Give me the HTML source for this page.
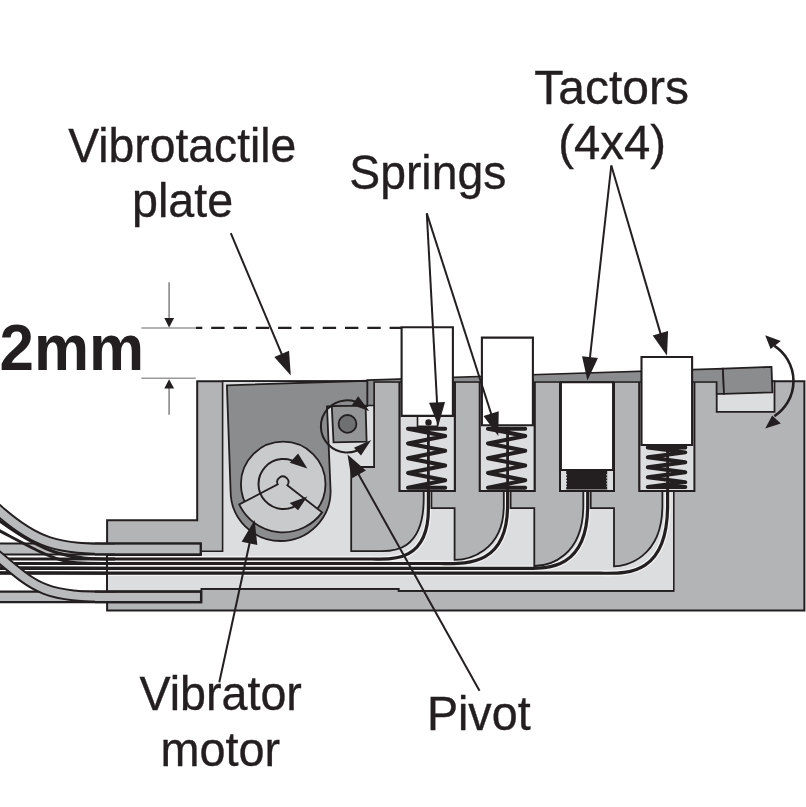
<!DOCTYPE html>
<html><head><meta charset="utf-8"><style>
html,body{margin:0;padding:0;background:#fff;}
svg{display:block;font-family:"Liberation Sans",sans-serif;}
</style></head><body>
<svg width="806" height="807" viewBox="0 0 806 807">
<polygon points="107.1,520.3 197.2,520.3 197.2,381.3 804.4,381.3 804.4,610.4 107.1,610.4" fill="#b3b4b6" stroke="#231f20" stroke-width="2.0" />
<polygon points="107.1,555.2 200.7,555.2 200.7,551.2 222.6,551.2 222.6,381.3 673.8,381.3 673.8,590.9 398.6,590.9 398.6,588.9 201.3,588.9 201.3,591.6 107.1,591.6" fill="#dcdddf" stroke="#231f20" stroke-width="1.6" />
<path d="M428.4,489.1 V508.9 C428.4,565.26 386.1,559 372,559 H108" fill="none" stroke="#f2f2f2" stroke-width="5.8" />
<path d="M507.6,489.1 V505.3 C507.6,567.87 463.66,563.5 440,563.5 H108" fill="none" stroke="#f2f2f2" stroke-width="5.8" />
<path d="M587.7,489.1 V505.3 C587.7,573.02 543.83,568.3 520.2,568.3 H108" fill="none" stroke="#f2f2f2" stroke-width="5.8" />
<path d="M667.6,489.1 V505.3 C667.6,578.29 623.66,573.2 600,573.2 H108" fill="none" stroke="#f2f2f2" stroke-width="5.8" />
<path d="M374.1,381.3 H399.6 V491.1 H423.7 V498.5 C423.7,553.73 389.83,551.1 380,551.1 H351.2 V467 H374.1 Z" fill="#b3b4b6" stroke="#231f20" stroke-width="1.8" />
<path d="M454.8,381.3 H479.8 V491.1 H503.8 V505.4 C503.8,552.27 467.39,559.9 454.6,559.9 H454.6 V508.2 H431.4 V491.1 H454.8 Z" fill="#b3b4b6" stroke="#231f20" stroke-width="1.8" />
<path d="M534.6,381.3 H560 V491.1 H583.3 V505.4 C583.3,556.91 549,566 534.3,566 H534.3 V508.2 H510.6 V491.1 H534.6 Z" fill="#b3b4b6" stroke="#231f20" stroke-width="1.8" />
<path d="M614,381.3 H639.4 V491.1 H662.4 V505.4 C662.4,558.69 624.89,566.3 614,566.3 H614 V508.2 H590.7 V491.1 H614 Z" fill="#b3b4b6" stroke="#231f20" stroke-width="1.8" />
<path d="M428.4,489.1 V508.9 C428.4,565.26 386.1,559 372,559 H-20" fill="none" stroke="#231f20" stroke-width="3.2" />
<path d="M507.6,489.1 V505.3 C507.6,567.87 463.66,563.5 440,563.5 H-20" fill="none" stroke="#231f20" stroke-width="3.2" />
<path d="M587.7,489.1 V505.3 C587.7,573.02 543.83,568.3 520.2,568.3 H-20" fill="none" stroke="#231f20" stroke-width="3.2" />
<path d="M667.6,489.1 V505.3 C667.6,578.29 623.66,573.2 600,573.2 H-20" fill="none" stroke="#231f20" stroke-width="3.2" />
<path d="M201.3,588.9 H398.6 V590.9 H673.8" fill="none" stroke="#231f20" stroke-width="1.6" />
<polygon points="399.6,381.3 454.8,381.3 454.8,491.1 399.6,491.1" fill="#dcdddf" stroke="#231f20" stroke-width="2" />
<polygon points="479.8,381.3 534.6,381.3 534.6,491.1 479.8,491.1" fill="#dcdddf" stroke="#231f20" stroke-width="2" />
<polygon points="560,381.3 614,381.3 614,491.1 560,491.1" fill="#dcdddf" stroke="#231f20" stroke-width="2" />
<polygon points="639.4,381.3 694.4,381.3 694.4,491.1 639.4,491.1" fill="#dcdddf" stroke="#231f20" stroke-width="2" />
<polygon points="716.7,381.3 774.5,381.3 774.5,411.9 716.7,411.9" fill="#dcdddf" stroke="#231f20" stroke-width="1.8" />
<polygon points="367.3,380.08 722.9,368.63 724,393.9 716.7,393.9 716.7,382 374.1,382 374.1,405.5 367.3,405.5" fill="#8a8c8d" stroke="#231f20" stroke-width="1.6" />
<polygon points="722.9,368.6 771.5,366.9 772.4,392.4 724,393.9" fill="#8a8c8d" stroke="#231f20" stroke-width="1.8" />
<path d="M408,428.7 H445.2 M408,428.7 L445.2,436.07 L408,443.45 L445.2,450.82 L408,458.2 L445.2,465.57 L408,472.95 L445.2,480.32 L408,487.7 M408,487.7 H445.2" fill="none" stroke="#231f20" stroke-width="4.0" stroke-linecap="round" stroke-linejoin="round"/>
<path d="M428.4,428.7 V493.1" fill="none" stroke="#231f20" stroke-width="2.8" />
<path d="M488,428.7 H525.2 M488,428.7 L525.2,436.07 L488,443.45 L525.2,450.82 L488,458.2 L525.2,465.57 L488,472.95 L525.2,480.32 L488,487.7 M488,487.7 H525.2" fill="none" stroke="#231f20" stroke-width="4.0" stroke-linecap="round" stroke-linejoin="round"/>
<path d="M507.6,428.7 V493.1" fill="none" stroke="#231f20" stroke-width="2.8" />
<path d="M647.8,447.4 H685.3 M647.8,447.4 L685.3,452.36 L647.8,457.32 L685.3,462.29 L647.8,467.25 L685.3,472.21 L647.8,477.18 L685.3,482.14 L647.8,487.1 M647.8,487.1 H685.3" fill="none" stroke="#231f20" stroke-width="4.0" stroke-linecap="round" stroke-linejoin="round"/>
<path d="M667.6,447.4 V493.1" fill="none" stroke="#231f20" stroke-width="2.8" />
<polygon points="566.2,470.5 607.2,470.5 607.2,489.5 566.2,489.5" fill="#231f20" />
<path d="M566.5,474 v13 M606.9,474 v13" stroke="#dcdddf" stroke-width="0.9" stroke-dasharray="1.6 1.4"/>
<polygon points="417.5,415.8 437.5,415.8 437.5,426.3 417.5,426.3" fill="#f2f2f2" stroke="#231f20" stroke-width="1.6" />
<circle cx="428.5" cy="422.4" r="3.2" fill="#231f20"/>
<polygon points="401.6,327.2 452.9,327.2 452.9,415.9 401.6,415.9" fill="#ffffff" stroke="#231f20" stroke-width="2.1" />
<polygon points="481.9,337.6 532.9,337.6 532.9,425.3 481.9,425.3" fill="#ffffff" stroke="#231f20" stroke-width="2.1" />
<polygon points="560.9,382.2 613.1,382.2 613.1,470 560.9,470" fill="#ffffff" stroke="#231f20" stroke-width="2.1" />
<polygon points="641.5,357 692.1,357 692.1,445 641.5,445" fill="#ffffff" stroke="#231f20" stroke-width="2.1" />
<path d="M226.9,385.3 L367.3,380.8 V406.0 L327.0,406.5 L330.6,491 A50,50 0 0 1 230.6,491 Z" fill="#8a8c8d" stroke="#231f20" stroke-width="1.8" />
<polygon points="331.8,406.1 365.6,405.7 366.6,441.6 333.5,442.3" fill="#939597" stroke="#231f20" stroke-width="1.8" />
<circle cx="347.5" cy="423.9" r="8.9" fill="#6e7072" stroke="#231f20" stroke-width="1.8"/>
<path d="M363.07,405.83 A26.1,26.1 0 1 0 363.78,446.39" fill="none" stroke="#231f20" stroke-width="2.0" />
<polygon points="369.23,411.12 351.98,404.91 358.19,396.28" fill="#231f20" />
<polygon points="371.19,439.88 353.94,447.7 360.96,455.52" fill="#231f20" />
<circle cx="283.2" cy="484" r="42.3" fill="#c9cacc" stroke="#231f20" stroke-width="1.8"/>
<path d="M277.72,484.37 A5.6,5.6 0 1 1 287.33,485.29 L322.08,512.39 A48.3,48.3 0 0 1 239.23,504.41 Z" fill="#c9cacc" stroke="#231f20" stroke-width="1.8" />
<path d="M298.89,464.3 A25,25 0 1 0 298.89,503.7" fill="none" stroke="#231f20" stroke-width="2.0" />
<polygon points="307.37,468.38 289.77,462.87 298.06,453.55" fill="#231f20" />
<polygon points="307.37,496.41 289.77,502.97 298.06,510.32" fill="#231f20" />
<polygon points="-5,543.5 200.7,543.5 200.7,554.5 -5,554.5" fill="#b9babc" stroke="#231f20" stroke-width="2.2" />
<polygon points="-5,591.6 201.1,591.6 201.1,602.1 -5,602.1" fill="#b9babc" stroke="#231f20" stroke-width="2.3" />
<path d="M-5,567.8 L60,568.0 L108,568.3" fill="none" stroke="#231f20" stroke-width="2.9" />
<path d="M-5,572.7 L60,572.9000000000001 L108,573.2" fill="none" stroke="#231f20" stroke-width="2.9" />
<path d="M-6,552.88 C38.3,590.6 44.58,596.8 115,596.8" fill="none" stroke="#231f20" stroke-width="11.8" />
<path d="M-6,552.88 C38.3,590.6 44.58,596.8 115,596.8" fill="none" stroke="#b9babc" stroke-width="7.8" />
<path d="M-6,516.67 C46.96,556.43 68.5,559.0 115,559.0" fill="none" stroke="#231f20" stroke-width="2.9" />
<path d="M-6,527.84 C62.42,563.78 56.89,563.5 115,563.5" fill="none" stroke="#231f20" stroke-width="2.9" />
<path d="M-6,506.3 C35.97,544.9 58.04,549 115,549" fill="none" stroke="#231f20" stroke-width="12" />
<path d="M-6,506.3 C35.97,544.9 58.04,549 115,549" fill="none" stroke="#b9babc" stroke-width="8" />
<rect x="95" y="544.6" width="105" height="8.8" fill="#b9babc"/>
<path d="M95,543.5 H200.7 V554.5 H95" fill="none" stroke="#231f20" stroke-width="2.2" />
<rect x="95" y="592.75" width="105" height="8.2" fill="#b9babc"/>
<path d="M95,591.6 H201.1 V602.1 H95" fill="none" stroke="#231f20" stroke-width="2.3" />
<path d="M107.1,555.2 V591.6" fill="none" stroke="#231f20" stroke-width="1.6" />
<path d="M141.4,328 H196" fill="none" stroke="#9a9a9a" stroke-width="1.6" />
<path d="M196,327.8 H401.6" fill="none" stroke="#231f20" stroke-width="2.2" stroke-dasharray="13.4 8.9" stroke-dashoffset="-15.2"/>
<path d="M141.4,378.3 H195.7" fill="none" stroke="#9a9a9a" stroke-width="1.6" />
<path d="M169.1,282.2 V320" fill="none" stroke="#8a8a8a" stroke-width="1.6" />
<polygon points="169.1,327.5 164.3,318.1 174.1,318.1" fill="#231f20" />
<path d="M169.1,386 V414.8" fill="none" stroke="#8a8a8a" stroke-width="1.6" />
<polygon points="169.1,379.2 164.3,388.5 174.1,388.5" fill="#231f20" />
<path d="M230.8,233.2 L286.91,366.29" fill="none" stroke="#231f20" stroke-width="2.0" />
<polygon points="290.8,375.5 274.3,356.95 289.04,350.74" fill="#231f20" />
<path d="M426.8,213.4 L437.76,415.81" fill="none" stroke="#231f20" stroke-width="2.0" />
<polygon points="438.3,425.8 429.04,402.77 445.02,401.9" fill="#231f20" />
<path d="M426.8,213.4 L495.24,426.48" fill="none" stroke="#231f20" stroke-width="2.0" />
<polygon points="498.3,436 483.5,416.07 498.73,411.18" fill="#231f20" />
<path d="M611.3,165.5 L588.5,370.56" fill="none" stroke="#231f20" stroke-width="2.0" />
<polygon points="587.4,380.5 582.05,356.26 597.95,358.03" fill="#231f20" />
<path d="M611.3,165.5 L664.19,346.1" fill="none" stroke="#231f20" stroke-width="2.0" />
<polygon points="667,355.7 652.72,335.4 668.07,330.9" fill="#231f20" />
<path d="M219.3,682.3 L252.48,529.67" fill="none" stroke="#231f20" stroke-width="2.0" />
<polygon points="254.6,519.9 257.32,545.05 241.68,541.65" fill="#231f20" />
<path d="M479.5,690.7 L352.38,463.23" fill="none" stroke="#231f20" stroke-width="2.0" />
<polygon points="347.5,454.5 365.92,470.55 351.52,478.6" fill="#231f20" />
<path d="M774.4,345.8 A42,42 0 0 1 774.4,416.2" fill="none" stroke="#231f20" stroke-width="2.6" />
<polygon points="765.2,335.3 770.6,348.9 780.8,341.1" fill="#231f20" />
<polygon points="765.2,428.6 772.2,415.6 780.8,423.4" fill="#231f20" />
<g style="opacity:0.999">
<text transform="translate(68.2,161.8) scale(0.9525925925925925,1)" font-size="48.6" font-weight="normal" fill="#231f20" stroke="#231f20" stroke-width="0.35">Vibrotactile</text>
<text transform="translate(132,216.8) scale(0.96,1)" font-size="48.6" font-weight="normal" fill="#231f20" stroke="#231f20" stroke-width="0.35">plate</text>
<text transform="translate(349.3,189.3) scale(0.9530864197530864,1)" font-size="48.6" font-weight="normal" fill="#231f20" stroke="#231f20" stroke-width="0.35">Springs</text>
<text transform="translate(534.2,103.5) scale(0.9876543209876543,1)" font-size="48.6" font-weight="normal" fill="#231f20" stroke="#231f20" stroke-width="0.35">Tactors</text>
<text transform="translate(558.3,158.9) scale(0.9738271604938272,1)" font-size="48.6" font-weight="normal" fill="#231f20" stroke="#231f20" stroke-width="0.35">(4x4)</text>
<text transform="translate(-0.4,369.5) scale(0.968,1)" font-size="64" font-weight="bold" fill="#231f20">2mm</text>
<text transform="translate(139.4,710.2) scale(0.96,1)" font-size="48.6" font-weight="normal" fill="#231f20" stroke="#231f20" stroke-width="0.35">Vibrator</text>
<text transform="translate(160.6,765.6) scale(0.9629629629629629,1)" font-size="48.6" font-weight="normal" fill="#231f20" stroke="#231f20" stroke-width="0.35">motor</text>
<text transform="translate(426.9,730.4) scale(0.96,1)" font-size="48.6" font-weight="normal" fill="#231f20" stroke="#231f20" stroke-width="0.35">Pivot</text>
</g>
</svg>
</body></html>
